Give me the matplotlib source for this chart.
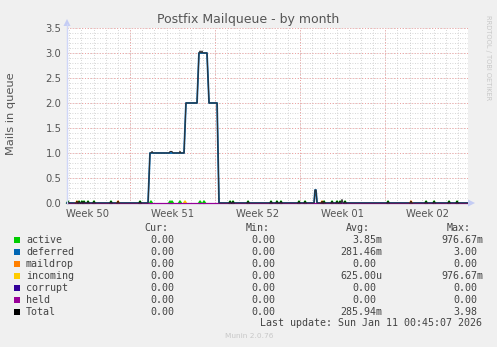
import matplotlib
matplotlib.use("Agg")
import matplotlib.pyplot as plt

# time axis in days since the left edge of the graph (33 days shown)
span_days = 33
first_monday = 5.19
week_labels = ["Week 50", "Week 51", "Week 52", "Week 01", "Week 02"]

# Total and deferred queue sizes, (day, mails)
total_steps = [(0, 0), (6.67, 0), (6.83, 1.0), (6.91, 1.0), (7.00, 1.03), (7.08, 1.0),
               (8.40, 1.0), (8.48, 1.03), (8.64, 1.03), (8.72, 1.0), (9.26, 1.0),
               (9.30, 1.03), (9.34, 1.0), (9.63, 1.0), (9.79, 2.0), (10.70, 2.0),
               (10.86, 3.0), (10.95, 3.04), (11.03, 3.0), (11.11, 3.04), (11.19, 3.0),
               (11.52, 3.0), (11.69, 2.0), (12.35, 2.0), (12.51, 0), (20.33, 0),
               (20.41, 0.26), (20.49, 0.26), (20.58, 0), (22.55, 0), (22.63, 0.07),
               (22.72, 0), (33, 0)]
deferred_steps = [(0, 0), (6.67, 0), (6.83, 1.0), (9.63, 1.0), (9.79, 2.0), (10.70, 2.0),
                  (10.86, 3.0), (11.52, 3.0), (11.69, 2.0), (12.35, 2.0), (12.51, 0),
                  (20.33, 0), (20.41, 0.26), (20.49, 0.26), (20.58, 0), (33, 0)]

# short blips (one sample) of the other queues
active_blips = [0.08, 0.99, 1.23, 1.40, 1.73, 2.22, 3.62, 6.01, 6.91, 8.48, 8.64, 9.30,
                10.95, 11.28, 13.42, 13.66, 14.90, 16.79, 17.28, 17.61, 19.09, 19.59,
                21.15, 21.81, 22.22, 22.47, 22.88, 26.42, 29.55, 30.21, 31.44, 32.10]
maildrop_blips = [0.82, 4.20, 20.99, 28.31]
incoming_blips = [9.71]
blip_height = 0.035

names = ["active", "deferred", "maildrop", "incoming", "corrupt", "held", "Total"]
colors = ["#00CC00", "#0066B3", "#FF8000", "#FFCC00", "#330099", "#990099", "#000000"]
cur = ["0.00", "0.00", "0.00", "0.00", "0.00", "0.00", "0.00"]
mins = ["0.00", "0.00", "0.00", "0.00", "0.00", "0.00", "0.00"]
avgs = ["3.85m", "281.46m", "0.00", "625.00u", "0.00", "0.00", "285.94m"]
maxs = ["976.67m", "3.00", "0.00", "976.67m", "0.00", "0.00", "3.98"]

W, H = 497, 347
def fx(x):
    return x / W
def fy(y):
    return 1 - y / H

fig = plt.figure(figsize=(W / 100, H / 100), dpi=100)
fig.patch.set_facecolor("#F0F0F0")
ax = fig.add_axes([fx(67), fy(203), 401 / W, 175 / H])
ax.set_facecolor("#FFFFFF")
ax.set_xlim(0, span_days)
ax.set_ylim(0, 3.5)
for s in ax.spines.values():
    s.set_visible(False)

# grid: minor every day / 0.1, major every monday / 0.5
day_offset = first_monday % 1
for d in range(span_days):
    ax.axvline(d + day_offset, color="#C8C8C8", lw=0.6, ls=(0, (1, 2)), zorder=0)
for i in range(36):
    ax.axhline(i * 0.1, color="#C8C8C8", lw=0.6, ls=(0, (1, 2)), zorder=0)
mondays = [first_monday + 7 * k for k in range(4)]
for m in mondays:
    ax.axvline(m, color="#F0A0A0", lw=0.7, ls=(0, (1, 2)), zorder=0.5)
for v in [0.5, 1.0, 1.5, 2.0, 2.5, 3.0, 3.5]:
    ax.axhline(v, color="#F0A0A0", lw=0.7, ls=(0, (1, 2)), zorder=0.5)

ax.set_yticks([0, 0.5, 1.0, 1.5, 2.0, 2.5, 3.0, 3.5])
ax.set_yticklabels(["%.1f" % v for v in ax.get_yticks()])
label_pos = [first_monday - 3.5 + 7 * k for k in range(len(week_labels))]
ax.set_xticks(label_pos)
ax.set_xticklabels(week_labels)
ax.tick_params(length=0, labelsize=7.2, colors="#555555", pad=4)

def blip(days, color, lw):
    for d in days:
        ax.plot([d - 0.09, d, d + 0.09], [0, blip_height, 0], color=color, lw=lw,
                clip_on=False, zorder=3)

def steps(pts, color, lw, z):
    ax.plot([p[0] for p in pts], [p[1] for p in pts], color=color, lw=lw,
            clip_on=False, zorder=z)

# draw in munin order
blip(active_blips, colors[0], 1.3)
steps(deferred_steps, colors[1], 1.3, 3)
blip(maildrop_blips, colors[2], 1.3)
blip(incoming_blips, colors[3], 1.3)
ax.plot([0, span_days], [0, 0], color=colors[4], lw=0.8, clip_on=False, zorder=3)
ax.plot([0, span_days], [0, 0], color=colors[5], lw=0.8, clip_on=False, zorder=3)
steps(total_steps, "#303030", 0.8, 4)
zero_blips = [d for d in active_blips + maildrop_blips
              if not any(a[0] <= d <= b[0] and a[1] > 0 for a, b in zip(total_steps, total_steps[1:]))]
blip(zero_blips, "#000000", 0.6)

# axis arrows
fig.add_artist(plt.Line2D([fx(67), fx(67)], [fy(203), fy(24)], color="#CFD6F8", lw=1))
fig.add_artist(plt.Polygon([[fx(63.5), fy(26)], [fx(70.5), fy(26)], [fx(67), fy(19)]],
                           color="#C4CCF4", lw=0))
fig.add_artist(plt.Polygon([[fx(468), fy(199.5)], [fx(468), fy(206.5)], [fx(475), fy(203)]],
                           color="#C4CCF4", lw=0))

fig.text(fx(248), fy(19), "Postfix Mailqueue - by month", ha="center", va="center",
         fontsize=9, color="#555555")
fig.text(fx(11), fy(114), "Mails in queue", rotation=90, ha="center", va="center",
         fontsize=8.2, color="#555555")
fig.text(fx(488), fy(58), "RRDTOOL / TOBI OETIKER", rotation=270, ha="center", va="center",
         fontsize=4.8, color="#C8C8C8")

mono = "DejaVu Sans Mono"
tc = "#444444"
for x, h in [(168, "Cur:"), (270, "Min:"), (370, "Avg:"), (471, "Max:")]:
    fig.text(fx(x), fy(228), h, ha="right", va="center", family=mono, fontsize=7.2, color=tc)

def right_edge(col_x, s):
    return col_x + (6 if s[-1].isalpha() else 0)

for i, name in enumerate(names):
    y = 240 + 12 * i
    fig.add_artist(plt.Rectangle((fx(14), fy(y + 3)), 6 / W, 6 / H, color=colors[i], lw=0))
    fig.text(fx(26), fy(y), name, ha="left", va="center", family=mono, fontsize=7.2, color=tc)
    for col_x, vals in [(174, cur), (275, mins), (376, avgs), (477, maxs)]:
        fig.text(fx(right_edge(col_x, vals[i])), fy(y), vals[i], ha="right", va="center",
                 family=mono, fontsize=7.2, color=tc)

fig.text(fx(482), fy(323), "Last update: Sun Jan 11 00:45:07 2026", ha="right", va="center",
         family=mono, fontsize=7.2, color=tc)
fig.text(fx(249), fy(336), "Munin 2.0.76", ha="center", va="center", fontsize=5.3,
         color="#C8C8C8")

fig.savefig("out.png", dpi=100, facecolor=fig.get_facecolor())
